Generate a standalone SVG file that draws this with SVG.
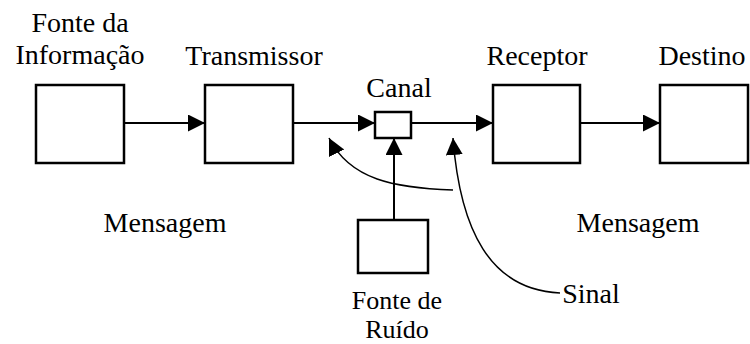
<svg xmlns="http://www.w3.org/2000/svg" width="750" height="344" viewBox="0 0 750 344">
  <style>
    .box { fill: #fff; stroke: #000; stroke-width: 2.5; }
    .link { fill: none; stroke: #000; stroke-width: 2; }
    .curve { fill: none; stroke: #000; stroke-width: 1.5; }
  </style>
  <defs>
    <marker id="head" markerUnits="userSpaceOnUse" markerWidth="18" markerHeight="18" refX="17" refY="8.5" orient="auto" viewBox="0 0 18 18">
      <path d="M0,0 L17,8.5 L0,17 z" fill="#000"/>
    </marker>
  </defs>
  <rect width="750" height="344" fill="#fff"/>

  <g font-family="Liberation Serif, Times New Roman, serif" font-size="28" fill="#000" text-anchor="middle">
    <g id="fonte-informacao">
      <rect class="box" x="36" y="85" width="88" height="78"/>
      <text x="80" y="32">Fonte da</text>
      <text x="80" y="64">Informação</text>
    </g>

    <g id="transmissor">
      <rect class="box" x="205" y="85" width="88" height="78"/>
      <text x="254" y="65">Transmissor</text>
    </g>

    <g id="canal">
      <rect class="box" x="375" y="112" width="36" height="26"/>
      <text x="399" y="97">Canal</text>
    </g>

    <g id="receptor">
      <rect class="box" x="493" y="85" width="87" height="78"/>
      <text x="537" y="65">Receptor</text>
    </g>

    <g id="destino">
      <rect class="box" x="660" y="85" width="88" height="78"/>
      <text x="702" y="65">Destino</text>
    </g>

    <g id="fonte-ruido" font-size="26">
      <rect class="box" x="358" y="220" width="70" height="53"/>
      <text x="397" y="309">Fonte de</text>
      <text x="397" y="338">Ruído</text>
    </g>

    <g id="labels">
      <text x="165" y="232">Mensagem</text>
      <text x="638" y="232">Mensagem</text>
      <text x="591" y="303">Sinal</text>
    </g>
  </g>

  <g id="connectors">
    <line class="link" x1="124" y1="123" x2="205" y2="123" marker-end="url(#head)"/>
    <line class="link" x1="293" y1="123" x2="375" y2="123" marker-end="url(#head)"/>
    <line class="link" x1="411" y1="123" x2="493" y2="123" marker-end="url(#head)"/>
    <line class="link" x1="580" y1="123" x2="660" y2="123" marker-end="url(#head)"/>
    <line class="link" x1="394" y1="220" x2="394" y2="138" marker-end="url(#head)"/>
    <path class="curve" d="M453,190 C395,188 350,180 329,138" marker-end="url(#head)"/>
    <path class="curve" d="M560,293 C490,290 460,230 453,138" marker-end="url(#head)"/>
  </g>
</svg>
